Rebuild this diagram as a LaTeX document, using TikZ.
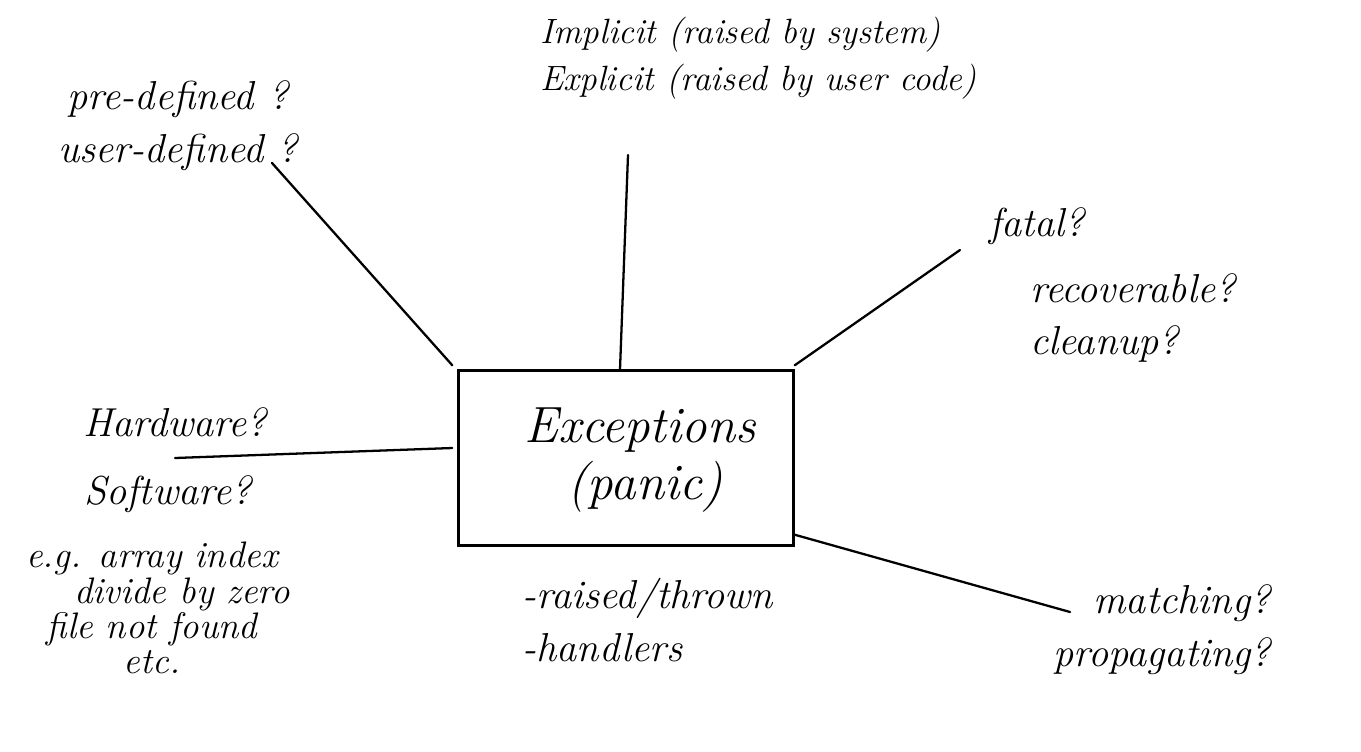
\documentclass[tikz,border=0pt]{standalone}
\usepackage{tikz}
\usetikzlibrary{shapes,arrows,positioning,calc}
\tikzstyle{topic} = [draw, line width=1.4pt, rectangle, minimum width=6.7cm, minimum height=3.5cm]
\tikzstyle{note} = [align=left, inner sep=0pt, font=\fontsize{23}{30}\selectfont\itshape]
\tikzstyle{branch} = [line width=1.3pt, line cap=round]

\begin{document}
\begin{tikzpicture}[x=0.02cm, y=-0.02cm, node distance=1cm]
    \useasboundingbox (0,0) rectangle (1361,751);
    % Centre
    \node [topic] (box) at (626,458) {};
    \node [font=\fontsize{29}{34}\selectfont\itshape, inner sep=0pt] (exc) at (640,430) {Exceptions};
    \node [font=\fontsize{29}{34}\selectfont\itshape, inner sep=0pt] (panic) at (645,487) {(panic)};

    % Notes
    \node [note, align=center] (defined) at (178,126) {pre-defined ?\\user-defined ?};
    \node [note, anchor=west, font=\fontsize{20}{27}\selectfont\itshape] (kind) at (540,58) {Implicit (raised by system)\\Explicit (raised by user code)};
    \node [note] (fatal) at (1037,226) {fatal?};
    \node [note, anchor=west] (recover) at (1030,318) {recoverable?\\cleanup?};
    \node [note] (hard) at (175,422) {Hardware?};
    \node [note] (soft) at (168,494) {Software?};
    \node [note, align=center, font=\fontsize{21}{20}\selectfont\itshape] (eg) at (152,608) {e.g. array index\\\hspace*{1.2cm}divide by zero\\file not found\\etc.};
    \node [note, anchor=west] (events) at (522,620) {-raised/thrown\\-handlers};
    \node [note, align=center] (match) at (1162,630) {\hspace*{0.8cm}matching?\\propagating?};

    % Ends of the strokes
    \coordinate (cDefined) at (272,163);
    \coordinate (cKind) at (628,155);
    \coordinate (cFatal) at (960,250);
    \coordinate (cHard) at (175,458);
    \coordinate (cMatch) at (1070,612);

    % Connections
    \draw [branch] ($(box.north west)+(-5,-4)$) -- (cDefined);
    \draw [branch] ($(box.north)+(-6,0)$) -- (cKind);
    \draw [branch] ($(box.north east)+(0,-4)$) -- (cFatal);
    \draw [branch] ($(box.west)+(-5,-10)$) -- (cHard);
    \draw [branch] ($(box.south east)+(0,-12)$) -- (cMatch);
\end{tikzpicture}
\end{document}
